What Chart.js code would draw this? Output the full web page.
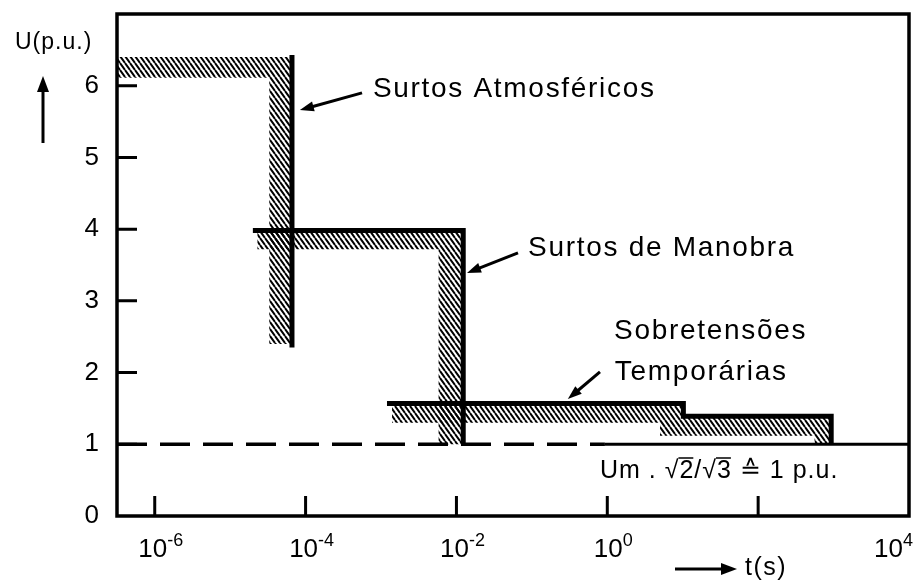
<!DOCTYPE html>
<html lang="pt">
<head>
<meta charset="utf-8">
<title>Sobretensões – U(p.u.) x t(s)</title>
<script src="https://cdn.jsdelivr.net/npm/chart.js@4.4.1/dist/chart.umd.min.js"></script>
<style>
  html, body { margin: 0; padding: 0; background: #fff; }
  #wrap { width: 923px; height: 581px; }
</style>
</head>
<body>
<div id="wrap"><canvas id="chart" width="923" height="581"></canvas></div>
<script>
// Overvoltage classes: U (p.u.) against duration t (s), log time axis

const X_MIN = 3.16e-7;   // ~10^-6.5, left frame edge
const X_MAX = 1e4;
const Y_MIN = 0;
const Y_MAX = 7;
const X_TICKS = [1e-6, 1e-4, 1e-2, 1, 1e2, 1e4];
const X_TICK_BASE = '10';
const X_TICK_EXP = ['-6', '-4', '-2', '0', null, '4'];   // 10^2 tick carries no label
const Y_TICKS = [0, 1, 2, 3, 4, 5, 6];

// solid envelopes, [t, U]
const ATM_LINE = [[6.6e-5, 6.43], [6.6e-5, 2.35]];
const MAN_LINE = [[2.0e-5, 3.98], [1.23e-2, 3.98], [1.23e-2, 1.0]];
const TEMP_LINE = [[1.2e-3, 1.57], [10.2, 1.57], [10.2, 1.39], [930, 1.39], [930, 1.0]];

// hatched bands (closed outlines), [t, U]
const ATM_BAND = [[3.16e-7, 6.40], [6.6e-5, 6.40], [6.6e-5, 2.40], [3.3e-5, 2.40], [3.3e-5, 6.11], [3.16e-7, 6.11]];
const MAN_BAND = [[2.3e-5, 3.95], [1.23e-2, 3.95], [1.23e-2, 1.0], [5.8e-3, 1.0], [5.8e-3, 3.72], [2.3e-5, 3.72]];
const TEMP_BAND = [[1.4e-3, 1.55], [10.2, 1.55], [10.2, 1.37], [930, 1.37], [930, 1.0], [560, 1.0],
                   [560, 1.12], [5.0, 1.12], [5.0, 1.30], [1.4e-3, 1.30]];

// reference level 1 p.u.
const REF_DASHED = [[3.16e-7, 1], [0.93, 1]];
const REF_SOLID = [[0.93, 1], [1e4, 1]];

const FONT = '"Liberation Sans", Arial, Helvetica, sans-serif';

// ---- hatch pattern (\\\ stripes) ----
function hatch() {
  const c = document.createElement('canvas');
  c.width = 5; c.height = 7;
  const g = c.getContext('2d');
  g.strokeStyle = '#000';
  g.lineWidth = 2;
  g.beginPath();
  [-5, 0, 5].forEach(o => { g.moveTo(o, 0); g.lineTo(o + 5, 7); });
  g.stroke();
  return g.createPattern(c, 'repeat');
}

function series(pts, extra) {
  return Object.assign({
    data: pts.map(([t, u]) => ({ x: t, y: u })),
    showLine: true, pointRadius: 0, tension: 0, fill: false,
    borderColor: '#000', borderWidth: 5,
    borderCapStyle: 'butt', borderJoinStyle: 'miter'
  }, extra);
}

function arrow(ctx, x1, y1, x2, y2, head, half) {
  const a = Math.atan2(y2 - y1, x2 - x1), c = Math.cos(a), s = Math.sin(a);
  ctx.beginPath();
  ctx.moveTo(x1, y1);
  ctx.lineTo(x2 - head * 0.7 * c, y2 - head * 0.7 * s);
  ctx.stroke();
  ctx.beginPath();
  ctx.moveTo(x2, y2);
  ctx.lineTo(x2 - head * c - half * s, y2 - head * s + half * c);
  ctx.lineTo(x2 - head * c + half * s, y2 - head * s - half * c);
  ctx.closePath();
  ctx.fill();
}

// ---- frame, inward ticks, power-of-ten labels, notes and arrows ----
const overlay = {
  id: 'overlay',
  afterDraw(chart) {
    const { ctx, chartArea: a, scales: { x, y } } = chart;
    const X = t => x.getPixelForValue(t), Y = u => y.getPixelForValue(u);
    ctx.save();
    ctx.strokeStyle = '#000';
    ctx.fillStyle = '#000';

    ctx.lineWidth = 3.5;
    ctx.strokeRect(a.left, a.top, a.right - a.left, a.bottom - a.top);

    ctx.lineWidth = 3;
    ctx.beginPath();
    x.ticks.forEach(tk => {
      if (tk.value >= X_MAX) return;
      const px = X(tk.value);
      ctx.moveTo(px, a.bottom); ctx.lineTo(px, a.bottom - 20);
    });
    y.ticks.forEach(tk => {
      if (tk.value <= Y_MIN) return;
      const py = Y(tk.value);
      ctx.moveTo(a.left, py); ctx.lineTo(a.left + 20, py);
    });
    ctx.stroke();

    // x tick labels as 10 with raised exponent
    ctx.textAlign = 'left';
    ctx.textBaseline = 'alphabetic';
    x.ticks.forEach((tk, i) => {
      const exp = X_TICK_EXP[i];
      if (exp == null) return;
      ctx.font = '26px ' + FONT;
      const wb = ctx.measureText(X_TICK_BASE).width;
      ctx.font = '18px ' + FONT;
      const we = ctx.measureText(exp).width;
      const w = wb + we;
      let left = X(tk.value) + 6 - w / 2;
      if (left + w > a.right + 4) left = a.right + 4 - w;
      ctx.font = '26px ' + FONT;
      ctx.fillText(X_TICK_BASE, left, a.bottom + 41);
      ctx.font = '18px ' + FONT;
      ctx.fillText(exp, left + wb, a.bottom + 30);
    });

    // curve labels
    ctx.font = '28px ' + FONT;
    ctx.letterSpacing = '1.7px';
    ctx.fillText('Surtos Atmosféricos', X(7.8e-4), Y(5.84));
    ctx.fillText('Surtos de Manobra', X(0.089), Y(3.63));
    ctx.fillText('Sobretensões', X(1.23), Y(2.47));
    ctx.fillText('Temporárias', X(1.26), Y(1.90));

    ctx.lineWidth = 3;
    arrow(ctx, X(5.6e-4), Y(5.90), X(8.4e-5), Y(5.66), 14, 5);
    arrow(ctx, X(0.0655), Y(3.67), X(0.0138), Y(3.39), 14, 5);
    arrow(ctx, X(0.80), Y(2.01), X(0.30), Y(1.63), 14, 5);

    // reference note with radical bars
    ctx.font = '25px ' + FONT;
    ctx.letterSpacing = '1px';
    const nx = X(0.80), ny = Y(0.53);
    const note = 'Um . √2/√3 ≙ 1 p.u.';
    ctx.fillText(note, nx, ny);
    ctx.lineWidth = 1.5;
    ctx.beginPath();
    ['Um . √', 'Um . √2/√'].forEach(pre => {
      const x0 = nx + ctx.measureText(pre).width - 1;
      const x1 = x0 + ctx.measureText('2').width;
      ctx.moveTo(x0, ny - 20); ctx.lineTo(x1, ny - 20);
    });
    ctx.stroke();

    // axis titles with arrows
    ctx.font = '23px ' + FONT;
    ctx.letterSpacing = '1px';
    ctx.fillText('U(p.u.)', a.left - 102, 49);
    ctx.font = '25px ' + FONT;
    ctx.letterSpacing = '1.5px';
    ctx.fillText('t(s)', 745, 575);
    ctx.lineWidth = 3;
    arrow(ctx, a.left - 74, 143, a.left - 74, 76, 16, 6);
    arrow(ctx, 675, 569, 737, 569, 16, 6);
    ctx.restore();
  }
};

const pattern = hatch();

new Chart(document.getElementById('chart'), {
  type: 'scatter',
  data: {
    datasets: [
      series(ATM_LINE, { order: 1 }),
      series(MAN_LINE, { order: 1 }),
      series(TEMP_LINE, { order: 1 }),
      series(ATM_BAND, { order: 2, fill: 'shape', backgroundColor: pattern, borderWidth: 0, borderColor: 'rgba(0,0,0,0)' }),
      series(MAN_BAND, { order: 2, fill: 'shape', backgroundColor: pattern, borderWidth: 0, borderColor: 'rgba(0,0,0,0)' }),
      series(TEMP_BAND, { order: 2, fill: 'shape', backgroundColor: pattern, borderWidth: 0, borderColor: 'rgba(0,0,0,0)' }),
      series(REF_DASHED, { order: 3, borderWidth: 3.5, borderDash: [30, 13] }),
      series(REF_SOLID, { order: 3, borderWidth: 3 })
    ]
  },
  options: {
    responsive: false,
    animation: false,
    events: [],
    layout: { padding: { top: 14, right: 14, left: 0, bottom: 0 } },
    plugins: { legend: { display: false }, tooltip: { enabled: false } },
    scales: {
      x: {
        type: 'logarithmic', min: X_MIN, max: X_MAX, bounds: 'data',
        afterBuildTicks: s => { s.ticks = X_TICKS.map(v => ({ value: v })); },
        afterFit: s => { s.height = 65; s.paddingLeft = 0; s.paddingRight = 0; },
        grid: { display: false },
        border: { display: false },
        ticks: { display: false, autoSkip: false, maxRotation: 0, minRotation: 0 }
      },
      y: {
        min: Y_MIN, max: Y_MAX,
        afterBuildTicks: s => { s.ticks = Y_TICKS.map(v => ({ value: v })); },
        afterFit: s => { s.width = 117; s.paddingTop = 0; s.paddingBottom = 0; },
        grid: { display: false },
        border: { display: false },
        ticks: { padding: 10, color: '#000', font: { family: FONT, size: 26 } }
      }
    }
  },
  plugins: [overlay]
});
</script>
</body>
</html>
